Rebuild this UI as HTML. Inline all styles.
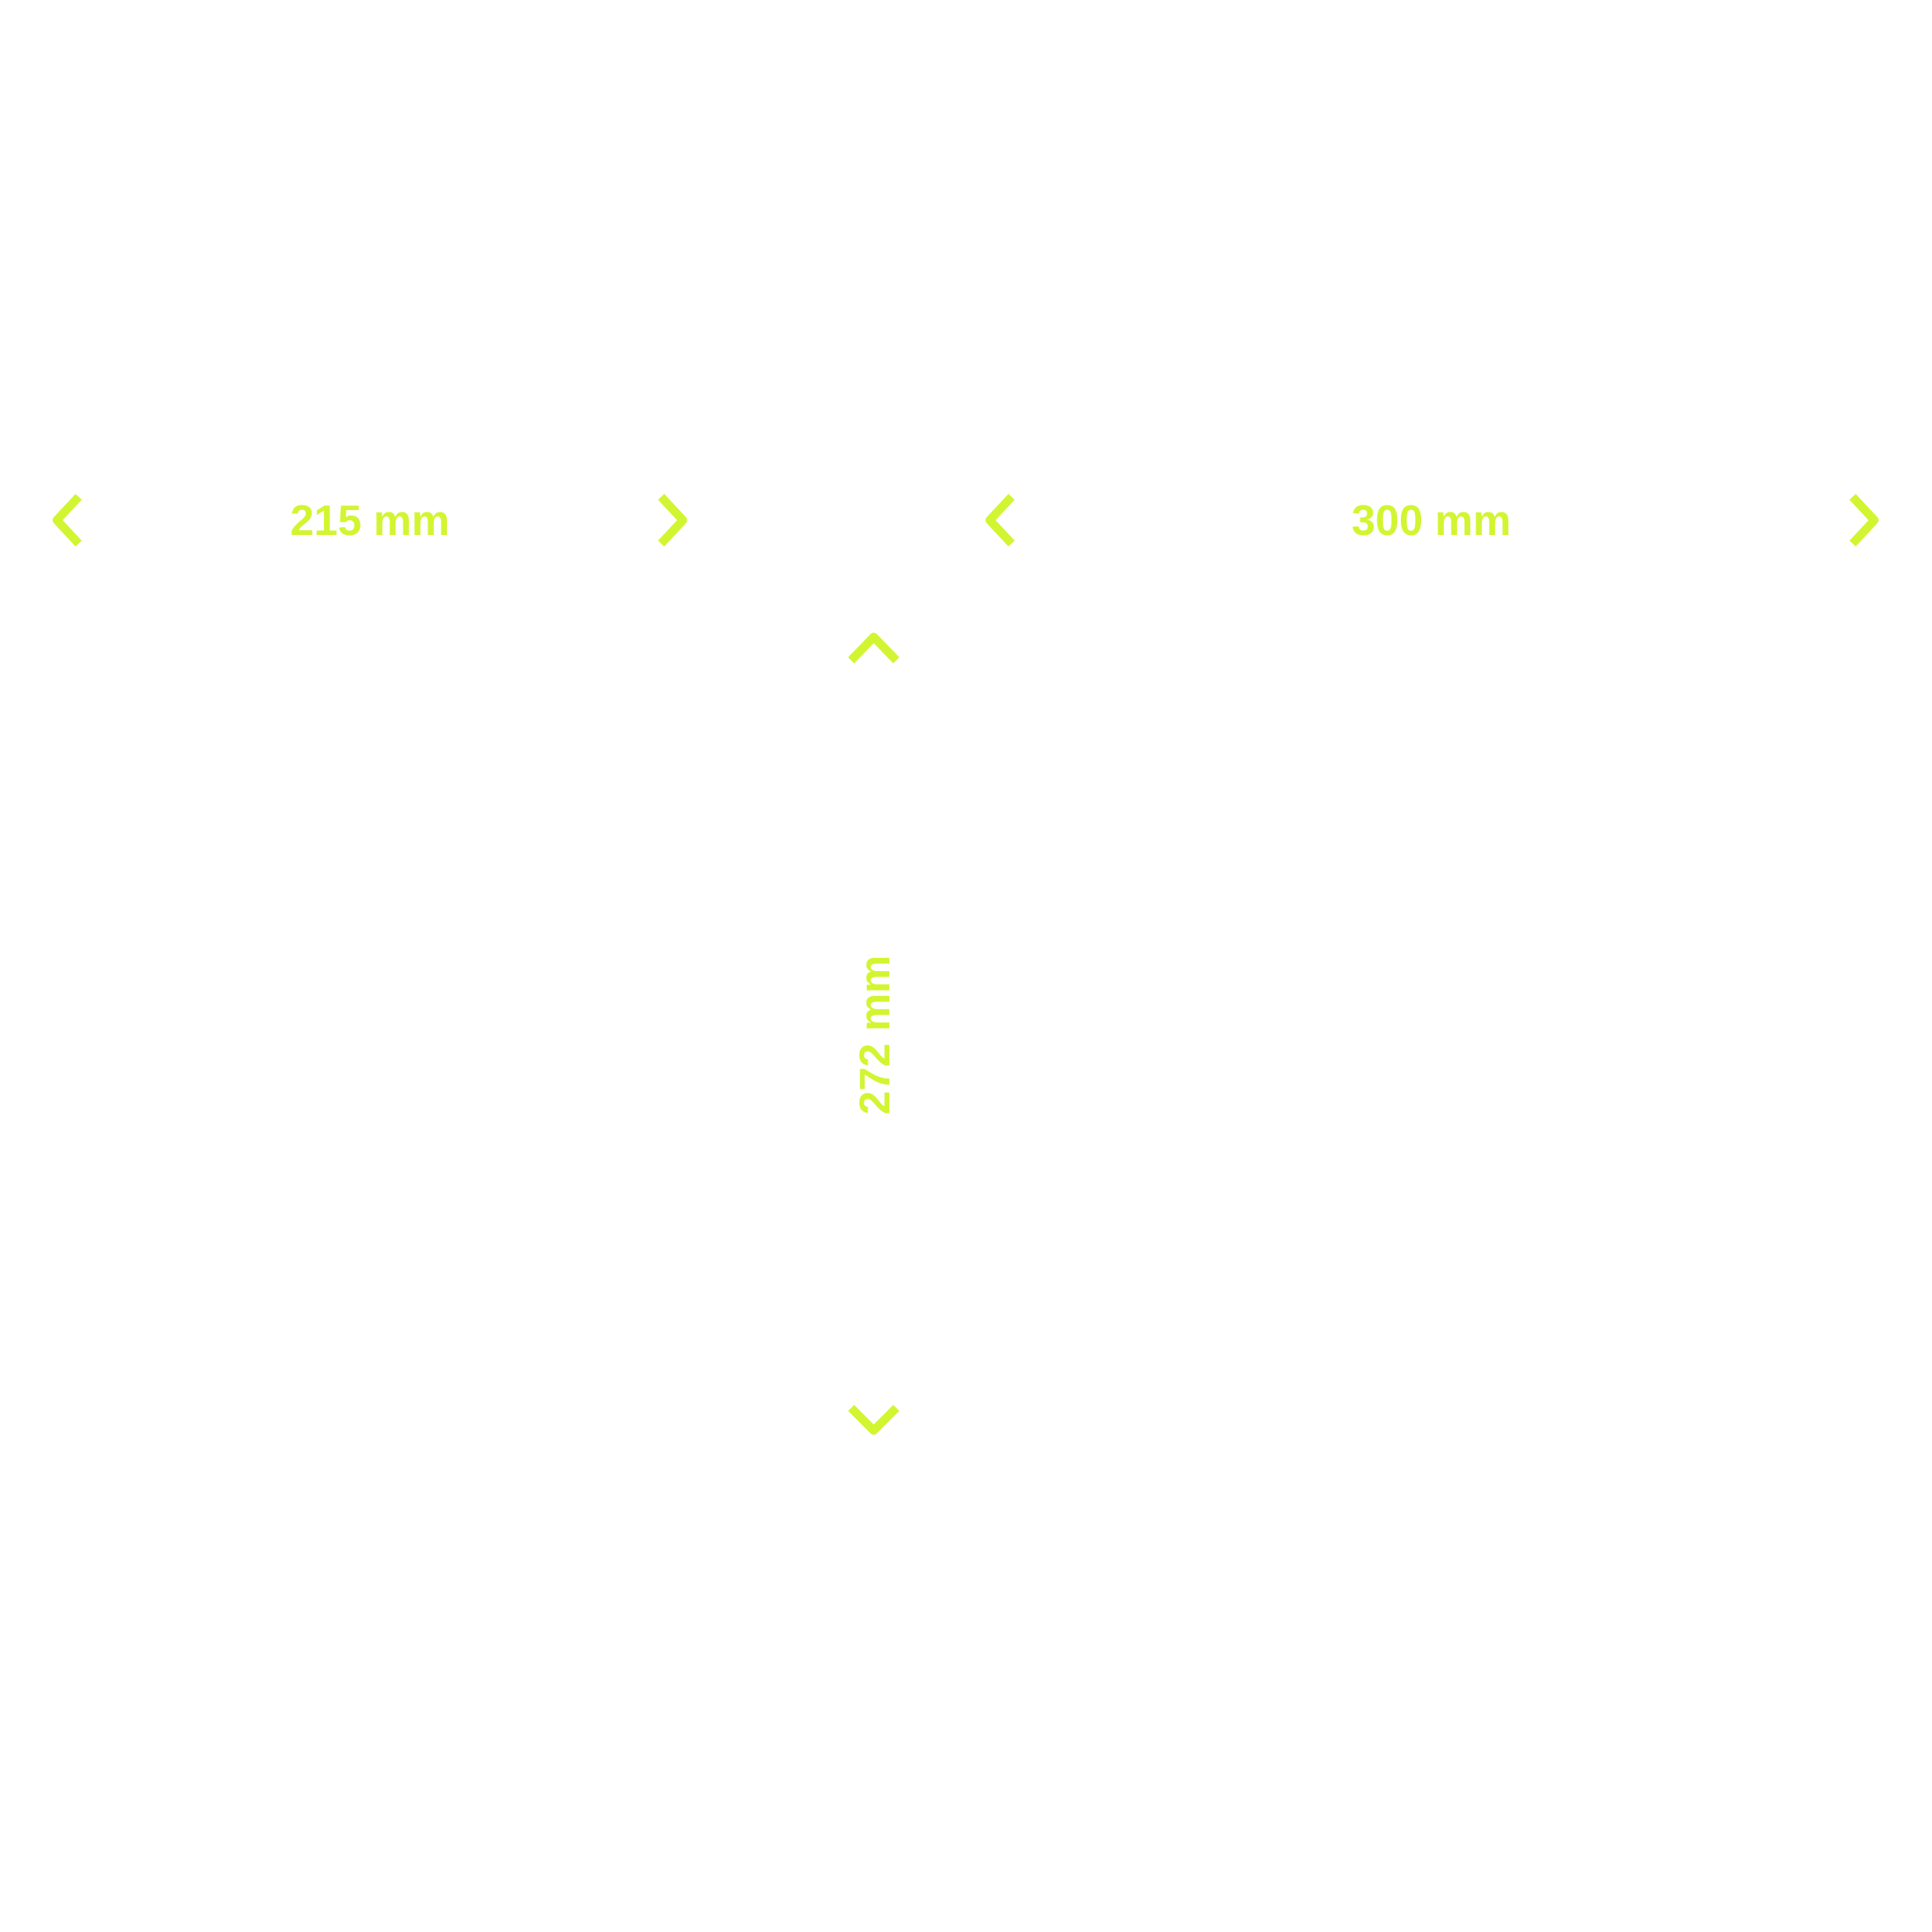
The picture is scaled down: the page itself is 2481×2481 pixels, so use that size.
<!DOCTYPE html>
<html><head><meta charset="utf-8"><style>
html,body{margin:0;padding:0;background:#fff;}
svg{display:block}
text{font-family:"Liberation Sans",Arial,sans-serif;font-weight:bold;font-size:55px;fill:#d2f531}
</style></head><body>
<svg width="2481" height="2481" viewBox="0 0 2481 2481" xmlns="http://www.w3.org/2000/svg">
<rect width="2481" height="2481" fill="#fff"/>
<g fill="none" stroke="#d2f531" stroke-width="11" stroke-linejoin="round">
<polyline points="101,638 73,668 101,698"/>
<polyline points="849,638 877,668 849,698"/>
<polyline points="1299,638 1271,668 1299,698"/>
<polyline points="2379,638 2407,668 2379,698"/>
<polyline points="1093,848 1122,818 1151,848"/>
<polyline points="1093,1808 1122,1837 1151,1808"/>
</g>
<text x="475" y="687" text-anchor="middle">215 mm</text>
<text x="1838" y="687" text-anchor="middle">300 mm</text>
<text transform="translate(1142,1329) rotate(-90)" text-anchor="middle">272 mm</text>
</svg>
</body></html>
